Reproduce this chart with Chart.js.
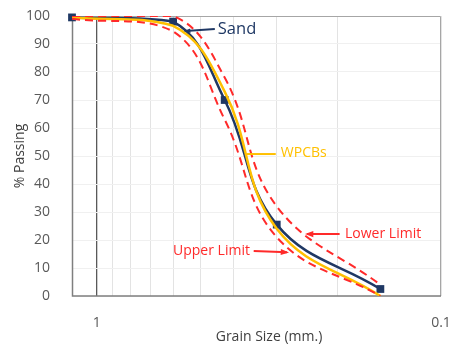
<!DOCTYPE html>
<html>
<head>
<meta charset="utf-8">
<script src="https://cdn.jsdelivr.net/npm/chart.js@4"></script>
<style>
html,body{margin:0;padding:0;background:#fff;}
#wrap{width:455px;height:346px;position:relative;}
</style>
</head>
<body>
<div id="wrap"><canvas id="c" width="455" height="346"></canvas></div>
<script>
// ---- data ----
const sieveSizes   = [1.18, 0.6, 0.425, 0.3, 0.15];      // grain size (mm)
const sandPassing  = [99.5, 98, 70, 25.5, 2.5];
const wpcbsPassing = [99.5, 96.5, 73, 24, 0];
const upperLimit   = [99, 94.5, 63, 21, 0];
const lowerLimit   = [100, 100, 78, 32, 4];
const xGridValues  = [0.1, 0.2, 0.3, 0.4, 0.5, 0.6, 0.7, 0.8, 0.9, 1];
const xTickLabels  = {1: '1', 0.1: '0.1'};
const yTicks       = [0, 10, 20, 30, 40, 50, 60, 70, 80, 90, 100];

const FONT = "'Open Sans', 'DejaVu Sans', sans-serif";
const NAVY = '#1f3864', GOLD = '#ffc000', RED = '#ff2a2a';

const pts = arr => sieveSizes.map((s, i) => ({x: s, y: arr[i]}));

// annotations in data coordinates
const notes = [
  {text: 'Sand', color: NAVY, size: 16.5, tx: 0.445, ty: 95.4, align: 'left', from: [0.454, 95.4], to: [0.551, 94.6], head: 5},
  {text: 'WPCBs', color: GOLD, size: 14, tx: 0.292, ty: 51.1, align: 'left', from: [0.302, 50.7], to: [0.366, 50.7], head: 0},
  {text: 'Upper Limit', color: RED, size: 14, tx: 0.359, ty: 16.1, align: 'right', from: [0.350, 16.1], to: [0.280, 15.6], head: 7},
  {text: 'Lower Limit', color: RED, size: 14, tx: 0.190, ty: 22.1, align: 'left', from: [0.197, 22.1], to: [0.245, 22.1], head: 7}
];

const decor = {
  id: 'decor',
  beforeDatasetsDraw(chart) {
    const {ctx, chartArea: a} = chart;
    ctx.save();
    ctx.strokeStyle = '#a6a6a6';
    ctx.lineWidth = 1;
    ctx.beginPath();
    ctx.moveTo(a.left, a.top + 0.5); ctx.lineTo(a.right - 0.5, a.top + 0.5); ctx.lineTo(a.right - 0.5, a.bottom);
    ctx.stroke();
    ctx.strokeStyle = '#7f7f7f';
    ctx.lineWidth = 1.5;
    ctx.beginPath();
    ctx.moveTo(a.left + 0.5, a.top); ctx.lineTo(a.left + 0.5, a.bottom); ctx.lineTo(a.right, a.bottom);
    ctx.stroke();
    ctx.restore();
  },
  afterDraw(chart) {
    const {ctx, scales: {x, y}} = chart;
    ctx.save();
    ctx.textBaseline = 'middle';
    notes.forEach(n => {
      ctx.font = n.size + 'px ' + FONT;
      ctx.fillStyle = n.color;
      ctx.textAlign = n.align;
      ctx.fillText(n.text, x.getPixelForValue(n.tx), y.getPixelForValue(n.ty));
      const x1 = x.getPixelForValue(n.from[0]), y1 = y.getPixelForValue(n.from[1]);
      const x2 = x.getPixelForValue(n.to[0]), y2 = y.getPixelForValue(n.to[1]);
      ctx.strokeStyle = n.color;
      ctx.lineWidth = 2;
      ctx.beginPath(); ctx.moveTo(x1, y1); ctx.lineTo(x2, y2); ctx.stroke();
      if (n.head) {
        const ang = Math.atan2(y2 - y1, x2 - x1), L = n.head;
        ctx.fillStyle = n.color;
        ctx.beginPath();
        ctx.moveTo(x2 + 2 * Math.cos(ang), y2 + 2 * Math.sin(ang));
        ctx.lineTo(x2 - L * Math.cos(ang - 0.45), y2 - L * Math.sin(ang - 0.45));
        ctx.lineTo(x2 - L * Math.cos(ang + 0.45), y2 - L * Math.sin(ang + 0.45));
        ctx.closePath(); ctx.fill();
      }
    });
    // x axis title
    ctx.font = '14px ' + FONT;
    ctx.fillStyle = '#404040';
    ctx.textAlign = 'center';
    ctx.fillText('Grain Size (mm.)', 269, 337);
    ctx.restore();
  }
};

new Chart(document.getElementById('c'), {
  type: 'line',
  data: {
    datasets: [
      {label: 'Upper Limit', data: pts(upperLimit), borderColor: RED, borderWidth: 2, borderDash: [8, 5], pointRadius: 0, tension: 0.4, fill: false},
      {label: 'Lower Limit', data: pts(lowerLimit), borderColor: RED, borderWidth: 2, borderDash: [8, 5], pointRadius: 0, tension: 0.4, fill: false},
      {label: 'WPCBs', data: pts(wpcbsPassing), borderColor: GOLD, borderWidth: 2.5, pointRadius: 0, tension: 0.4, fill: false},
      {label: 'Sand', data: pts(sandPassing), borderColor: NAVY, backgroundColor: NAVY, borderWidth: 2.5, pointStyle: 'rect', pointRadius: 5.5, pointBorderWidth: 0, tension: 0.4, fill: false, clip: false}
    ]
  },
  options: {
    responsive: false,
    animation: false,
    events: [],
    layout: {padding: {left: 0, right: 14, top: 16, bottom: 0}},
    plugins: {legend: {display: false}, tooltip: {enabled: false}, title: {display: false}},
    scales: {
      x: {
        type: 'logarithmic',
        reverse: true,
        min: 0.1, max: 1.18,
        afterBuildTicks: s => { s.ticks = xGridValues.map(v => ({value: v})); },
        afterFit: s => { s.height = 50; s.paddingLeft = 0; s.paddingRight = 0; },
        border: {display: false},
        grid: {
          drawTicks: false,
          color: c => (c.tick && c.tick.value === 1) ? '#595959' : '#e3e3e3',
          lineWidth: c => (c.tick && c.tick.value === 1) ? 1.3 : 1
        },
        ticks: {
          autoSkip: false, maxRotation: 0, padding: 19,
          color: '#595959', font: {family: FONT, size: 14},
          callback: v => xTickLabels[v] || ''
        }
      },
      y: {
        min: 0, max: 100,
        afterBuildTicks: s => { s.ticks = yTicks.map(v => ({value: v})); },
        afterFit: s => { s.width = 72; s.paddingTop = 0; s.paddingBottom = 0; },
        border: {display: false},
        grid: {drawTicks: false, color: '#f0f0f0'},
        ticks: {padding: 22, color: '#595959', font: {family: FONT, size: 14}},
        title: {display: true, text: '% Passing', color: '#404040', font: {family: FONT, size: 14}, padding: {top: 12, bottom: 0}}
      }
    }
  },
  plugins: [decor]
});
</script>
</body>
</html>
